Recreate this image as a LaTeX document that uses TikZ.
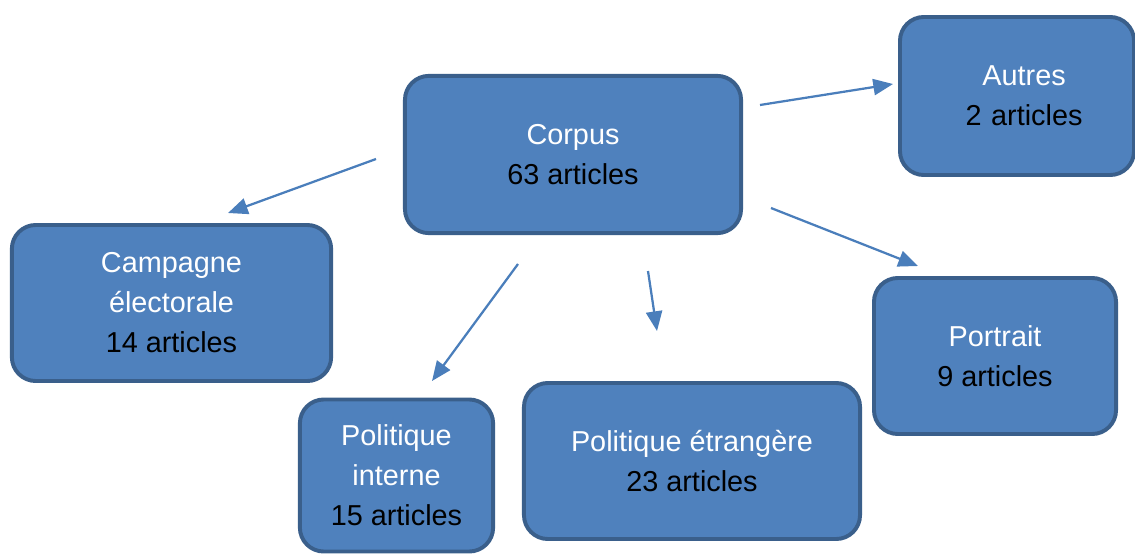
\documentclass[tikz,border=0pt]{standalone}
\usepackage{fontspec}
\setmainfont{Liberation Sans}
\usetikzlibrary{arrows.meta,positioning}
\definecolor{boxfill}{HTML}{4F81BD}
\definecolor{boxline}{HTML}{3A5F8B}
\definecolor{linkcol}{HTML}{4A7EBB}
\tikzset{
box/.style={draw=boxline, fill=boxfill, line width=2.8pt, rounded corners=17pt,
  text=white, align=center, inner sep=0pt,
  font=\fontsize{20.5}{28.4}\selectfont}, % the category boxes
link/.style={draw=linkcol, line width=1.6pt,
  -{Triangle[length=14pt,width=11.5pt]}}, % the arrows out of the corpus
}

\begin{document}
\begin{tikzpicture}[x=0.025cm,y=-0.025cm]
   \useasboundingbox (0,0) rectangle (1135,553);
   \node[box, minimum width=8.4cm, minimum height=3.93cm] (corpus) at (573,154.5)
     {Corpus\\\textcolor{black}{63 articles}};
   \node[box, minimum width=5.85cm, minimum height=3.95cm, text width=5.6cm, xshift=0pt] (autres) at (1017,96)
     {\hspace*{10pt}Autres\\\hspace*{10pt}\textcolor{black}{2 articles}};
   \node[box, minimum width=7.98cm, minimum height=3.9cm] (campagne) at (171.5,303)
     {Campagne\\électorale\\\textcolor{black}{14 articles}};
   \node[box, minimum width=4.83cm, minimum height=3.8cm] (interne) at (396.5,475.5)
     {Politique\\interne\\\textcolor{black}{15 articles}};
   \node[box, minimum width=8.4cm, minimum height=3.9cm] (etrangere) at (692,461)
     {Politique étrangère\\\textcolor{black}{23 articles}};
   \node[box, minimum width=6.05cm, minimum height=3.9cm] (portrait) at (995,356)
     {Portrait\\\textcolor{black}{9 articles}};
   % free ends of the arrows
   \coordinate (c-autres) at (760,105);
   \coordinate (t-autres) at (893,84);
   \coordinate (c-campagne) at (376,159);
   \coordinate (t-campagne) at (228,213);
   \coordinate (c-interne) at (518,264);
   \coordinate (t-interne) at (432,381);
   \coordinate (c-etrangere) at (648,271);
   \coordinate (t-etrangere) at (657,331);
   \coordinate (c-portrait) at (771,208);
   \coordinate (t-portrait) at (918,266);
   \draw[link] (c-autres) -- (t-autres);
   \draw[link] (c-campagne) -- (t-campagne);
   \draw[link] (c-interne) -- (t-interne);
   \draw[link] (c-etrangere) -- (t-etrangere);
   \draw[link] (c-portrait) -- (t-portrait);
\end{tikzpicture}
\end{document}
